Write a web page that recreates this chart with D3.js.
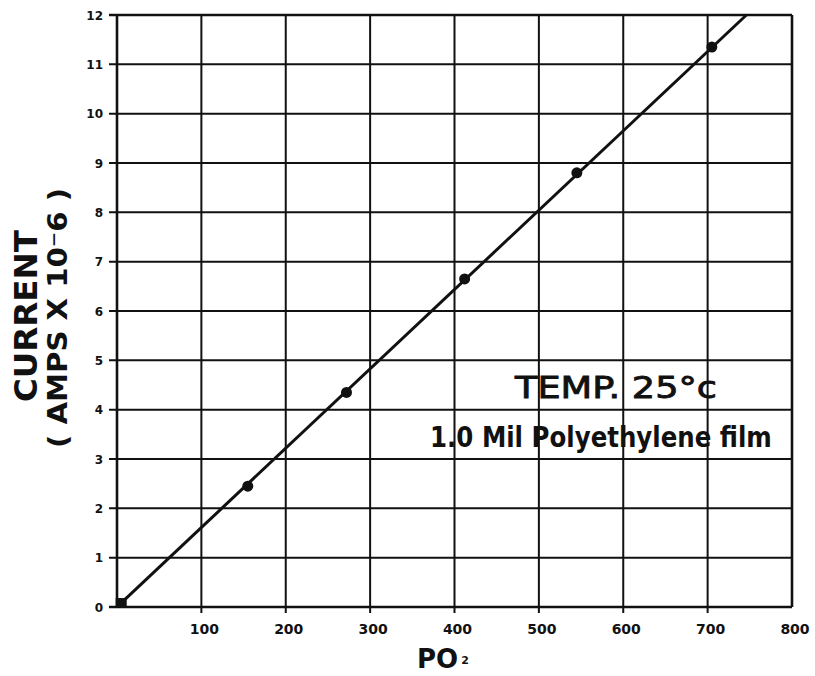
<!DOCTYPE html>
<html><head><meta charset="utf-8">
<script src="https://cdn.jsdelivr.net/npm/d3@7"></script>
<style>body{margin:0;background:#fff}svg{display:block}</style>
</head><body>
<svg id="c" width="815" height="676"></svg>
<script>
// Data
const xTicks = [100, 200, 300, 400, 500, 600, 700, 800];
const yTicks = [0, 1, 2, 3, 4, 5, 6, 7, 8, 9, 10, 11, 12];
const pO2 = [155, 272, 412, 545, 705];
const current = [2.45, 4.35, 6.65, 8.8, 11.35];
const originPoint = [5, 0.08];
const fitX = [6, 746];
const fitY = [0.1, 12];

const svg = d3.select("#c");
const x = d3.scaleLinear().domain([0, 800]).range([117, 792]);
const y = d3.scaleLinear().domain([0, 12]).range([607, 15]);
const ink = "#111";

// horizontal grid lines (with tick extending left)
svg.append("g").selectAll("line").data(yTicks).join("line")
  .attr("x1", 109).attr("x2", x(800))
  .attr("y1", d => y(d)).attr("y2", d => y(d))
  .attr("stroke", ink).attr("stroke-width", d => (d === 0 || d === 12) ? 2.6 : 2);

// vertical grid lines (with tick extending down)
const vLines = [0].concat(xTicks);
svg.append("g").selectAll("line").data(vLines).join("line")
  .attr("x1", d => x(d)).attr("x2", d => x(d))
  .attr("y1", y(12)).attr("y2", d => d === 0 || d === 800 ? y(0) : y(0) + 6)
  .attr("stroke", ink).attr("stroke-width", d => (d === 0 || d === 800) ? 2.6 : 2);

// y tick labels
svg.append("g").selectAll("text").data(yTicks).join("text")
  .attr("x", 103).attr("y", d => y(d) + 4.5)
  .attr("text-anchor", "end")
  .attr("font-family", "DejaVu Sans").attr("font-weight", "bold").attr("font-size", 12)
  .attr("fill", ink).text(d => d);

// x tick labels
svg.append("g").selectAll("text").data(xTicks).join("text")
  .attr("x", d => x(d) + 3).attr("y", 634)
  .attr("text-anchor", "middle")
  .attr("font-family", "DejaVu Sans").attr("font-weight", "bold").attr("font-size", 14)
  .attr("fill", ink).text(d => d);

// fit line
const line = d3.line().x(d => x(d[0])).y(d => y(d[1]));
svg.append("path")
  .datum(fitX.map((v, i) => [v, fitY[i]]))
  .attr("d", line).attr("fill", "none").attr("stroke", ink).attr("stroke-width", 3);

// points
svg.append("g").selectAll("circle").data(pO2.map((v, i) => [v, current[i]])).join("circle")
  .attr("cx", d => x(d[0])).attr("cy", d => y(d[1])).attr("r", 5.5).attr("fill", ink);
svg.append("rect")
  .attr("x", x(originPoint[0]) - 5.5).attr("y", y(originPoint[1]) - 5)
  .attr("width", 11).attr("height", 9).attr("fill", ink);

// axis titles
svg.append("text").attr("x", 417).attr("y", 668)
  .attr("font-family", "DejaVu Sans").attr("font-weight", "bold").attr("font-size", 26)
  .attr("fill", ink)
  .call(t => {
    t.append("tspan").text("PO");
    t.append("tspan").attr("font-size", 11).attr("dx", 3).attr("dy", -4).text("2");
  });

svg.append("text").attr("transform", "translate(37,316) rotate(-90)")
  .attr("text-anchor", "middle")
  .attr("font-family", "DejaVu Sans").attr("font-weight", "bold").attr("font-size", 32)
  .attr("textLength", 172).attr("lengthAdjust", "spacingAndGlyphs")
  .attr("fill", ink).text("CURRENT");

svg.append("text").attr("transform", "translate(67,318) rotate(-90)")
  .attr("text-anchor", "middle")
  .attr("font-family", "DejaVu Sans").attr("font-weight", "bold").attr("font-size", 26)
  .attr("textLength", 260).attr("lengthAdjust", "spacingAndGlyphs")
  .attr("fill", ink).text("( AMPS X 10\u207B6 )");

// annotations, horizontally scaled to fit their measured widths
function fitText(xPos, yPos, width, size, weight, str, strokeW) {
  const t = svg.append("text")
    .attr("font-family", "DejaVu Sans").attr("font-weight", weight).attr("font-size", size)
    .attr("fill", ink).text(str);
  if (strokeW) t.attr("stroke", ink).attr("stroke-width", strokeW);
  const w = t.node().getComputedTextLength();
  t.attr("transform", `translate(${xPos},${yPos}) scale(${width / w},1)`);
  return t;
}
fitText(515, 398, 202, 31, "normal", "TEMP. 25°c", 0.9);
fitText(430, 447, 342, 29, "bold", "1.0 Mil Polyethylene film", 0);
</script>
</body></html>
